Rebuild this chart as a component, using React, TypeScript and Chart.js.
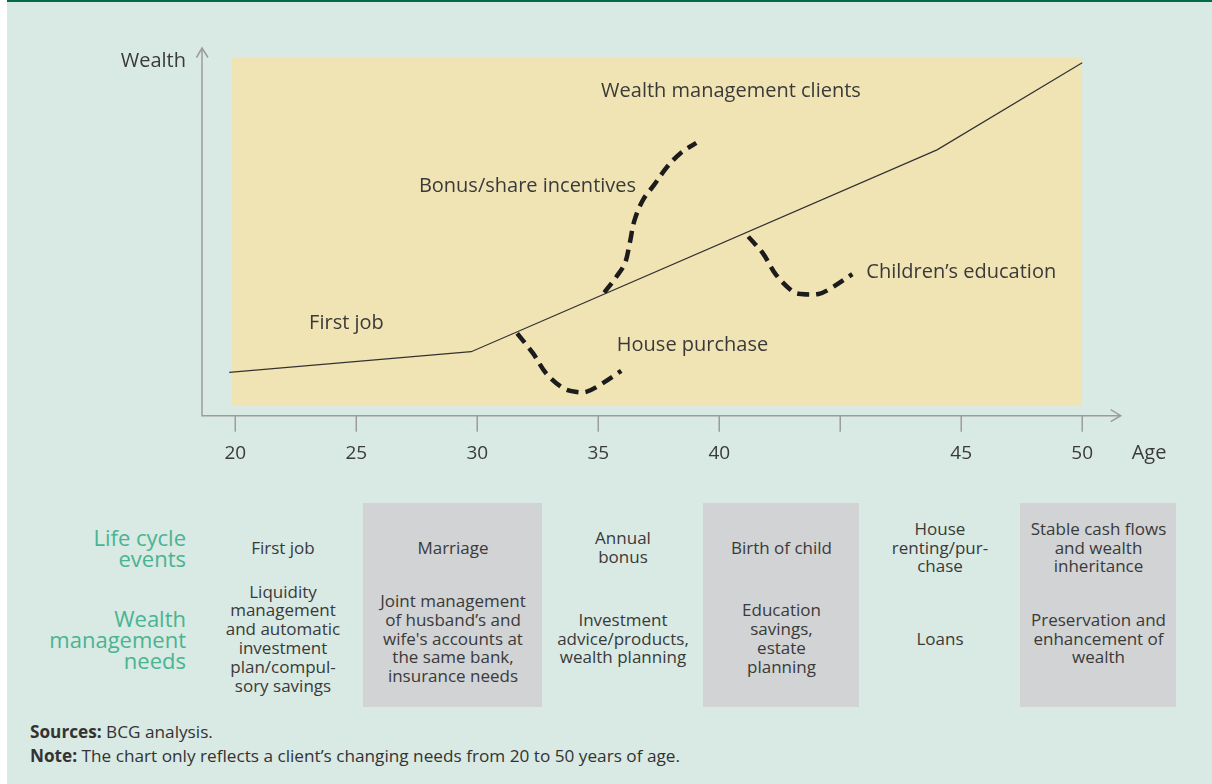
import React, { useEffect, useRef } from "react";
import { Chart, registerables } from "chart.js";

Chart.register(...registerables);

// ---------- data ----------
const tickLabels = ["20", "25", "30", "35", "40", "", "45", "50"];

const wealthX = [-0.05, 1.95, 5.8, 7.0];
const wealthY = [11.8, 17.4, 72.3, 96.0];

const houseX = [2.33, 2.46, 2.57, 2.71, 2.81, 2.9, 3.01, 3.19];
const houseY = [22.4, 17.0, 11.5, 7.5, 6.5, 6.5, 8.3, 12.2];

const bonusX = [3.05, 3.15, 3.22, 3.26, 3.3, 3.37, 3.46, 3.57, 3.68, 3.81];
const bonusY = [33.5, 37.8, 41.4, 46.9, 53.2, 58.7, 62.7, 67.7, 71.4, 74.2];

const eduX = [4.24, 4.36, 4.47, 4.61, 4.67, 4.82, 4.92, 5.1];
const eduY = [48.7, 44.2, 38.3, 33.7, 33.1, 33.1, 34.6, 38.5];

const clientZoneX = [-0.03, 7.0];
const clientZoneTop = 97.5;
const clientZoneBottom = 2.7;

const annotationTexts = [
  "Wealth management clients",
  "Bonus/share incentives",
  "First job",
  "House purchase",
  "Children\u2019s education",
];
const annotationX = [4.097, 2.415, 0.919, 3.779, 6.0];
const annotationY = [88.3, 62.45, 25.2, 19.25, 39.05];

const columnEvents = [
  "First job",
  "Marriage",
  "Annual\nbonus",
  "Birth of child",
  "House\nrenting/pur-\nchase",
  "Stable cash flows\nand wealth\ninheritance",
];
const columnNeeds = [
  "Liquidity\nmanagement\nand automatic\ninvestment\nplan/compul-\nsory savings",
  "Joint management\nof husband\u2019s and\nwife's accounts at\nthe same bank,\ninsurance needs",
  "Investment\nadvice/products,\nwealth planning",
  "Education\nsavings,\nestate\nplanning",
  "Loans",
  "Preservation and\nenhancement of\nwealth",
];
const columnShaded = [false, true, false, true, false, true];

// ---------- layout ----------
const FONT = '"Open Sans", sans-serif';
const TEXT = "#3a3a3a";
const colEdges = [203, 363, 543, 703, 860, 1020, 1177];

const toPoints = (xs: number[], ys: number[]) => xs.map((x, i) => ({ x, y: ys[i] }));

const axesPlugin = {
  id: "axesAndLabels",
  afterDatasetsDraw(chart: any) {
    const { ctx, scales } = chart;
    const xs = scales.x;
    const ys = scales.y;
    ctx.save();
    ctx.fillStyle = TEXT;
    ctx.font = `20px ${FONT}`;
    ctx.textAlign = "center";
    ctx.textBaseline = "middle";
    annotationTexts.forEach((t, i) => {
      ctx.fillText(t, xs.getPixelForValue(annotationX[i]), ys.getPixelForValue(annotationY[i]));
    });
    ctx.restore();
  },
  afterDraw(chart: any) {
    const { ctx, chartArea, scales } = chart;
    const xs = scales.x;
    const { left, right, top, bottom } = chartArea;
    ctx.save();
    ctx.strokeStyle = "#9c9c9c";
    ctx.lineWidth = 1.5;
    ctx.beginPath();
    ctx.moveTo(left, top);
    ctx.lineTo(left, bottom);
    ctx.lineTo(right, bottom);
    ctx.stroke();
    // arrows
    ctx.beginPath();
    ctx.moveTo(left - 5.5, top + 9.5);
    ctx.lineTo(left, top);
    ctx.lineTo(left + 6, top + 9.5);
    ctx.moveTo(right - 10, bottom - 6);
    ctx.lineTo(right, bottom);
    ctx.lineTo(right - 10, bottom + 6);
    ctx.stroke();
    // ticks
    ctx.fillStyle = TEXT;
    ctx.font = `19px ${FONT}`;
    ctx.textAlign = "center";
    ctx.textBaseline = "middle";
    tickLabels.forEach((lab, i) => {
      const px = xs.getPixelForValue(i);
      ctx.beginPath();
      ctx.moveTo(px, bottom);
      ctx.lineTo(px, bottom + 16);
      ctx.stroke();
      if (lab) ctx.fillText(lab, px, bottom + 38);
    });
    // axis titles
    ctx.font = `20px ${FONT}`;
    ctx.textAlign = "right";
    ctx.fillText("Wealth", left - 16, top + 13);
    ctx.textAlign = "left";
    ctx.fillText("Age", right + 11, bottom + 38);
    ctx.restore();
  },
};

function LifeCycleChart() {
  const ref = useRef<HTMLCanvasElement | null>(null);
  useEffect(() => {
    if (!ref.current) return;
    const dashed = {
      borderColor: "#1c1c1c",
      borderWidth: 4.5,
      borderDash: [12, 7],
      borderCapStyle: "butt",
      pointRadius: 0,
      tension: 0.35,
      fill: false,
      order: 0,
    };
    const chart = new Chart(ref.current, {
      type: "line",
      data: {
        datasets: [
          {
            label: "Wealth",
            data: toPoints(wealthX, wealthY),
            borderColor: "#333333",
            borderWidth: 1.2,
            pointRadius: 0,
            tension: 0,
            fill: false,
            order: 0,
          },
          { label: "House purchase", data: toPoints(houseX, houseY), ...dashed },
          { label: "Bonus/share incentives", data: toPoints(bonusX, bonusY), ...dashed },
          { label: "Children's education", data: toPoints(eduX, eduY), ...dashed },
          {
            label: "Wealth management clients",
            data: toPoints(clientZoneX, [clientZoneTop, clientZoneTop]),
            borderWidth: 0,
            borderColor: "rgba(0,0,0,0)",
            backgroundColor: "#f1e4b4",
            pointRadius: 0,
            fill: { value: clientZoneBottom },
            order: 10,
          },
        ] as any,
      },
      options: {
        animation: false,
        responsive: false,
        maintainAspectRatio: false,
        layout: { padding: { left: 202, right: 91.3, top: 48, bottom: 64.3 } },
        plugins: { legend: { display: false }, tooltip: { enabled: false } },
        scales: {
          x: { type: "linear", display: false, min: -0.275, max: 7.318 },
          y: { type: "linear", display: false, min: 0, max: 100 },
        },
      },
      plugins: [axesPlugin],
    });
    return () => chart.destroy();
  }, []);
  return (
    <canvas
      ref={ref}
      width={1212}
      height={480}
      style={{ position: "absolute", left: 0, top: 0, width: 1212, height: 480 }}
    />
  );
}

export default function App() {
  const cellText: React.CSSProperties = {
    position: "absolute",
    display: "flex",
    alignItems: "center",
    justifyContent: "center",
    textAlign: "center",
    whiteSpace: "pre-line",
    fontFamily: FONT,
    fontSize: 17,
    lineHeight: "18.8px",
    color: TEXT,
  };
  const rowLabel: React.CSSProperties = {
    position: "absolute",
    left: 0,
    width: 186,
    display: "flex",
    alignItems: "center",
    justifyContent: "flex-end",
    textAlign: "right",
    whiteSpace: "pre-line",
    fontFamily: FONT,
    fontSize: 22,
    lineHeight: "21px",
    color: "#48b492",
  };
  return (
    <div style={{ position: "absolute", left: 0, top: 0, width: 1212, height: 784, background: "#ffffff", overflow: "hidden" }}>
      <div
        style={{
          position: "absolute",
          left: 7,
          top: 0,
          width: 1205,
          height: 784,
          background: "#d9e9e3",
          borderTop: "2px solid #006a4b",
          boxSizing: "border-box",
        }}
      />
      <LifeCycleChart />
      {columnShaded.map((s, i) =>
        s ? (
          <div
            key={"bg" + i}
            style={{
              position: "absolute",
              left: colEdges[i],
              width: colEdges[i + 1] - colEdges[i] - 1,
              top: 503,
              height: 204,
              background: "#d1d3d4",
            }}
          />
        ) : null
      )}
      <div style={{ ...rowLabel, top: 508, height: 80 }}>{"Life cycle\nevents"}</div>
      <div style={{ ...rowLabel, top: 589, height: 100 }}>{"Wealth\nmanagement\nneeds"}</div>
      {columnEvents.map((t, i) => (
        <div key={"ev" + i} style={{ ...cellText, left: colEdges[i], width: colEdges[i + 1] - colEdges[i], top: 503, height: 90 }}>
          {t}
        </div>
      ))}
      {columnNeeds.map((t, i) => (
        <div key={"nd" + i} style={{ ...cellText, left: colEdges[i], width: colEdges[i + 1] - colEdges[i], top: 584, height: 110 }}>
          {t}
        </div>
      ))}
      <div
        style={{
          position: "absolute",
          left: 30,
          top: 720,
          fontFamily: FONT,
          fontSize: 17.2,
          lineHeight: "24px",
          color: "#333333",
          whiteSpace: "nowrap",
        }}
      >
        <div>
          <b>Sources:</b> BCG analysis.
        </div>
        <div>
          <b>Note:</b> The chart only reflects a client{"\u2019"}s changing needs from 20 to 50 years of age.
        </div>
      </div>
    </div>
  );
}
